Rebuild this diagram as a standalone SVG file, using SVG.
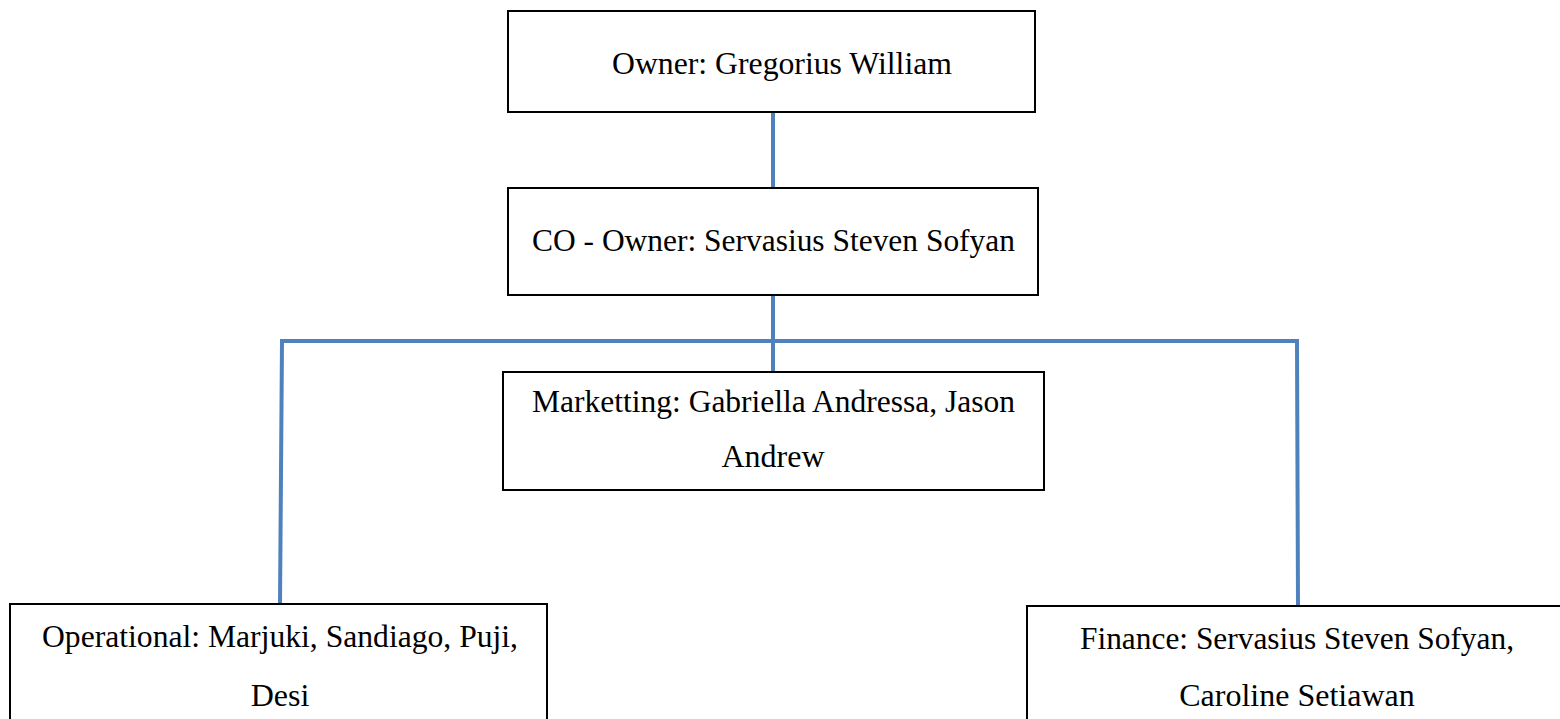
<svg xmlns="http://www.w3.org/2000/svg" width="1560" height="719" viewBox="0 0 1560 719">
<style>
.box{fill:#fff;stroke:#000;stroke-width:2}
.t{font-family:"Liberation Serif","Times New Roman",serif;font-size:32px;fill:#000}
.c{fill:none;stroke:#4F81BD;stroke-width:4}
</style>
<rect width="1560" height="719" fill="#fff"/>
<g id="connectors">
<line class="c" x1="773" y1="112" x2="773" y2="188"/>
<line class="c" x1="773" y1="295" x2="773" y2="372"/>
<polyline class="c" points="280,604 282,341 1297,341 1298,606"/>
</g>
<g id="owner">
<rect class="box" x="508" y="11" width="527" height="101"/>
<text class="t" x="612" y="74" textLength="340" lengthAdjust="spacingAndGlyphs">Owner: Gregorius William</text>
</g>
<g id="co-owner">
<rect class="box" x="508" y="188" width="530" height="107"/>
<text class="t" x="532" y="251" textLength="483" lengthAdjust="spacingAndGlyphs">CO - Owner: Servasius Steven Sofyan</text>
</g>
<g id="marketting">
<rect class="box" x="503" y="372" width="541" height="118"/>
<text class="t" x="532" y="412" textLength="483" lengthAdjust="spacingAndGlyphs">Marketting: Gabriella Andressa, Jason</text>
<text class="t" x="773" y="467" text-anchor="middle">Andrew</text>
</g>
<g id="operational">
<rect class="box" x="10" y="604" width="537" height="125"/>
<text class="t" x="42" y="647" textLength="476" lengthAdjust="spacingAndGlyphs">Operational: Marjuki, Sandiago, Puji,</text>
<text class="t" x="280" y="706" text-anchor="middle">Desi</text>
</g>
<g id="finance">
<rect class="box" x="1027" y="606" width="545" height="125"/>
<text class="t" x="1080" y="649" textLength="434" lengthAdjust="spacingAndGlyphs">Finance: Servasius Steven Sofyan,</text>
<text class="t" x="1297" y="706" text-anchor="middle">Caroline Setiawan</text>
</g>
</svg>
